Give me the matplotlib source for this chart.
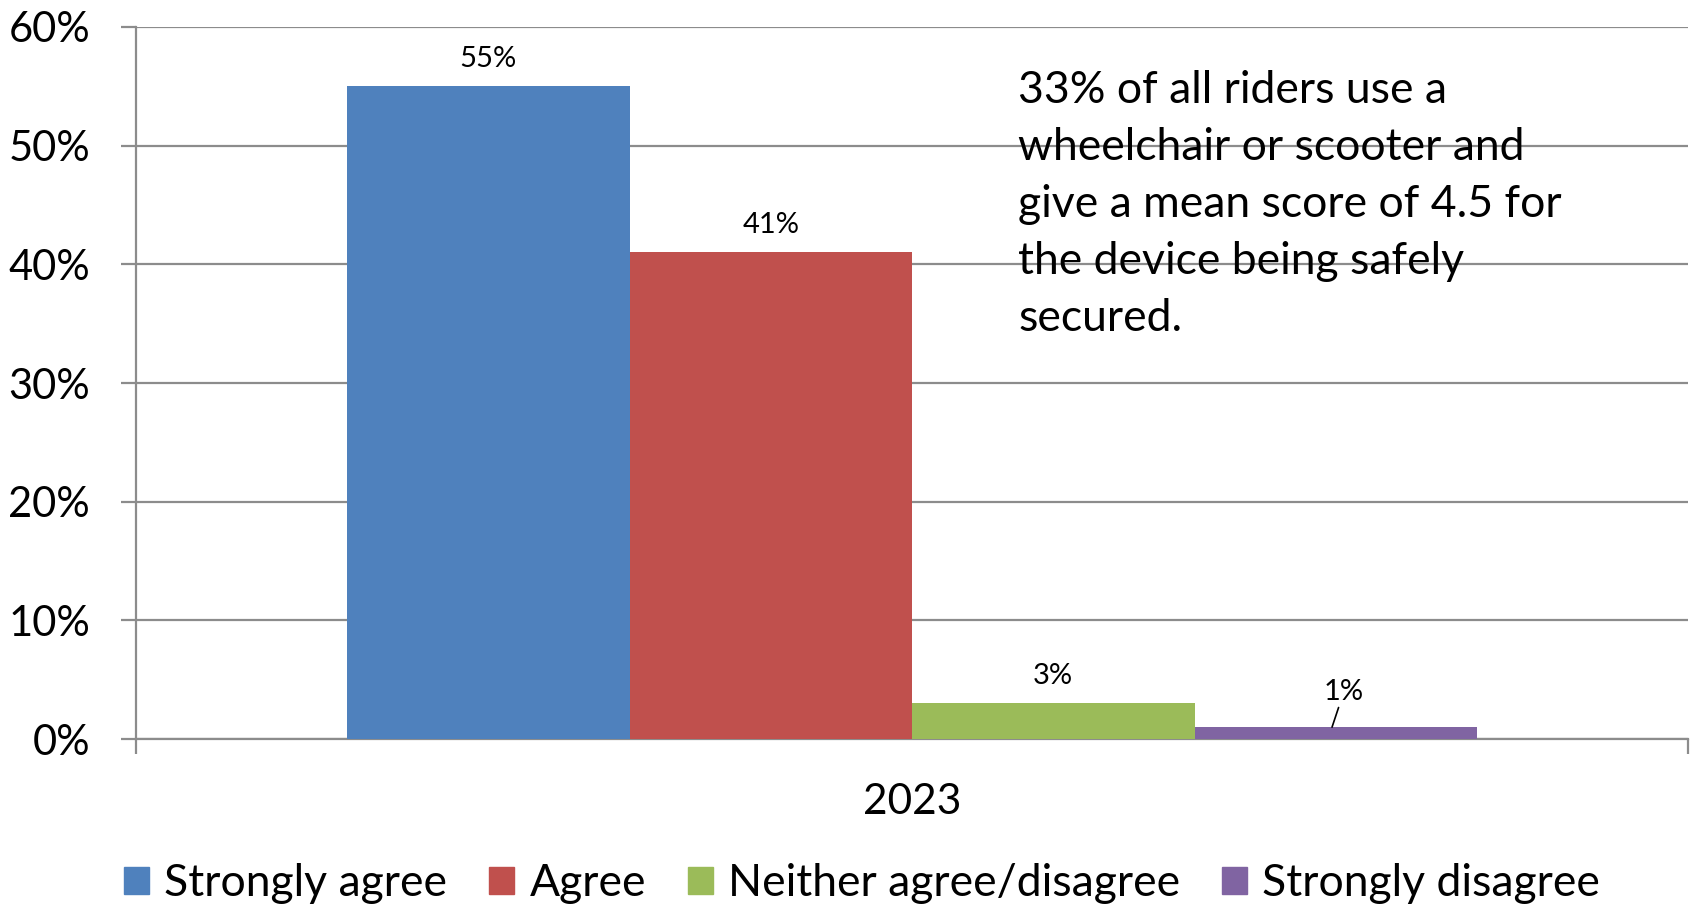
import matplotlib.pyplot as plt
from matplotlib.patches import Rectangle
from matplotlib.ticker import PercentFormatter

plt.rcParams['font.family'] = ['Lato', 'DejaVu Sans']

# survey answers for 2023 (percent of riders)
categories = ['Strongly agree', 'Agree', 'Neither agree/disagree', 'Strongly disagree']
values = [55, 41, 3, 1]
colors = ['#4F81BD', '#C0504D', '#9BBB59', '#8064A2']
year = '2023'
note = ('33% of all riders use a\n'
        'wheelchair or scooter and\n'
        'give a mean score of 4.5 for\n'
        'the device being safely\n'
        'secured.')

fig = plt.figure(figsize=(16.94, 9.09), dpi=100)
ax = fig.add_axes([0.0803, 0.187, 0.9162, 0.7833])

bw = 0.182
offsets = [(i - 1.5) * bw for i in range(len(values))]
for off, v, c, lab in zip(offsets, values, colors, categories):
    ax.bar(off, v, width=bw, color=c, label=lab, zorder=3)

# data labels; the tiny last bar gets a leader line
for off, v in zip(offsets[:-1], values[:-1]):
    ax.annotate(f'{v}%', (off, v), xytext=(0, 20), textcoords='offset points',
                ha='center', va='center', fontsize=21)
ax.annotate(f'{values[-1]}%', (offsets[-1] - 0.0024, values[-1]), xytext=(8.5, 25.5),
            textcoords='offset points', ha='center', va='center', fontsize=21,
            arrowprops=dict(arrowstyle='-', color='black', lw=1.2,
                            shrinkA=16, shrinkB=0))

ax.set_xlim(-0.5, 0.5)
ax.set_ylim(0, 60)
ax.set_yticks(range(0, 61, 10))
ax.yaxis.set_major_formatter(PercentFormatter(decimals=0))
ax.grid(axis='y', color='#8c8c8c', linewidth=1.6, zorder=0)

ax.set_xticks([-0.5, 0.5])
ax.set_xticklabels([])
ax.set_xticks([0], [year], minor=True)
ax.tick_params(axis='x', which='minor', length=0, labelsize=30.5, pad=32)
ax.tick_params(axis='x', which='major', length=11, width=1.6, color='#8c8c8c')
ax.tick_params(axis='y', length=11, width=1.6, color='#8c8c8c', labelsize=30, pad=22)

for s in ['top', 'right']:
    ax.spines[s].set_visible(False)
for s in ['left', 'bottom']:
    ax.spines[s].set_color('#8c8c8c')
    ax.spines[s].set_linewidth(1.6)

ax.text(0.5685, 0.94, note, transform=ax.transAxes, ha='left', va='top',
        fontsize=32, linespacing=1.49)

handles = [Rectangle((0, 0), 1, 1, color=c) for c in colors]
fig.legend(handles, categories, loc='center', bbox_to_anchor=(0.509, 0.028),
           ncol=4, frameon=False, fontsize=32, handlelength=0.55, handleheight=0.55,
           handletextpad=0.35, columnspacing=0.95)

fig.savefig('out.png', dpi=100)
